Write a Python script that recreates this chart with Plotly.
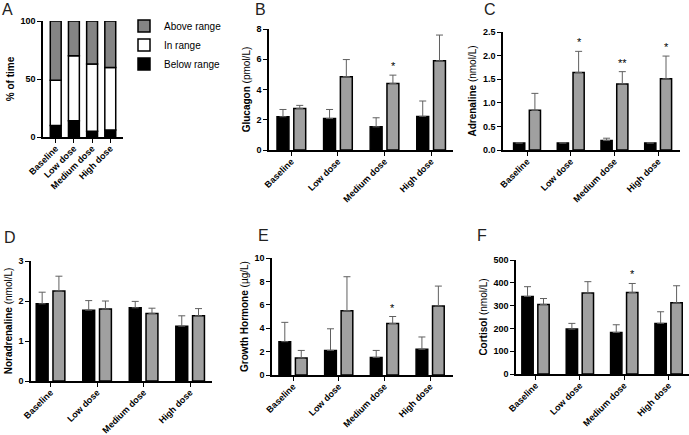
import plotly.graph_objects as go
import numpy as np

W, H = 689, 435

doses = ["Baseline", "Low dose", "Medium dose", "High dose"]

# Panel A: % of time
below_range = [10, 14, 5, 6]
in_range = [39, 56, 58, 54]
above_range = [51, 30, 37, 40]

# Panel B: Glucagon (pmol/L)
gluc_black = [2.2, 2.08, 1.53, 2.22]
gluc_black_err = [0.48, 0.6, 0.6, 1.02]
gluc_gray = [2.75, 4.85, 4.4, 5.9]
gluc_gray_err = [0.2, 1.13, 0.55, 1.7]
gluc_sig = ["", "", "*", ""]

# Panel C: Adrenaline (nmol/L)
adr_black = [0.15, 0.15, 0.2, 0.15]
adr_black_err = [0.0, 0.0, 0.05, 0.0]
adr_gray = [0.84, 1.64, 1.4, 1.51]
adr_gray_err = [0.36, 0.45, 0.26, 0.48]
adr_sig = ["", "*", "**", "*"]

# Panel D: Noradrenaline (nmol/L)
nor_black = [1.93, 1.77, 1.83, 1.37]
nor_black_err = [0.29, 0.24, 0.16, 0.26]
nor_gray = [2.25, 1.8, 1.69, 1.63]
nor_gray_err = [0.37, 0.2, 0.13, 0.18]
nor_sig = ["", "", "", ""]

# Panel E: Growth Hormone (µg/L)
gh_black = [2.85, 2.1, 1.5, 2.2]
gh_black_err = [1.65, 1.85, 0.6, 1.05]
gh_gray = [1.45, 5.5, 4.4, 5.9]
gh_gray_err = [0.65, 2.9, 0.6, 1.7]
gh_sig = ["", "", "*", ""]

# Panel F: Cortisol (nmol/L)
cort_black = [340, 197, 182, 222]
cort_black_err = [43, 25, 34, 51]
cort_gray = [305, 355, 357, 312]
cort_gray_err = [26, 50, 40, 75]
cort_sig = ["", "", "*", ""]

BLACK = "#000000"
GRAY = "#a0a0a0"
AGRAY = "#848484"
FONT = "Liberation Sans, Arial, sans-serif"

fig = go.Figure()

def dom_x(a, b):
    return [a / W, b / W]

def dom_y(top, bottom):
    return [1 - bottom / H, 1 - top / H]

panels = [
    ("A", (43, 123), (21, 137), [-0.7, 3.7], [0, 100], [0, 50, 100], None, "<b>% of time</b>"),
    ("B", (269, 453), (29, 150), [-0.48, 3.47], [0, 8], [0, 2, 4, 6, 8], None, "<b>Glucagon</b> (pmol/L)"),
    ("C", (503, 680), (32, 150), [-0.55, 3.5], [0, 2.5], [0, 0.5, 1.0, 1.5, 2.0, 2.5], ["0.0", "0.5", "1.0", "1.5", "2.0", "2.5"], "<b>Adrenaline</b> (nmol/L)"),
    ("D", (31, 212), (261, 381), [-0.42, 3.47], [0, 3], [0, 1, 2, 3], None, "<b>Noradrenaline</b> (nmol/L)"),
    ("E", (272, 453), (258, 375), [-0.46, 3.5], [0, 10], [0, 2, 4, 6, 8, 10], None, "<b>Growth Hormone</b> (µg/L)"),
    ("F", (516, 689), (260, 374), [-0.44, 3.46], [0, 500], [0, 100, 200, 300, 400, 500], None, "<b>Cortisol</b> (nmol/L)"),
]

layout_axes = {}
for i, (name, xd, yd, xr, yr, tv, tt, ytitle) in enumerate(panels):
    k = "" if i == 0 else str(i + 1)
    layout_axes["xaxis" + k] = dict(
        domain=dom_x(*xd), anchor="y" + k, type="category", automargin=False,
        categoryorder="array", categoryarray=doses, range=xr,
        showline=True, linecolor="black", linewidth=1.5,
        ticks="outside", ticklen=4, tickwidth=1.2, tickcolor="black",
        tickangle=-45, showgrid=False, zeroline=False, ticklabelstandoff=-3,
        tickfont=dict(family=FONT, size=9, color="black", weight="bold"),
    )
    layout_axes["yaxis" + k] = dict(
        domain=dom_y(*yd), anchor="x" + k, range=yr, automargin=False,
        tickvals=tv, ticktext=tt,
        showline=True, linecolor="black", linewidth=1.5,
        ticks="outside", ticklen=4, tickwidth=1.2, tickcolor="black",
        showgrid=False, zeroline=False,
        tickfont=dict(family=FONT, size=9, color="black", weight="bold"),
        title=dict(text=ytitle, font=dict(family=FONT, size=10, color="black"), standoff=4),
    )

# Panel A stacked via base
base_in = np.array(below_range)
base_above = base_in + np.array(in_range)
for vals, base, col, nm in [
    (below_range, None, BLACK, "Below range"),
    (in_range, base_in, "white", "In range"),
    (above_range, base_above, AGRAY, "Above range"),
]:
    fig.add_trace(go.Bar(
        x=doses, y=vals, base=base, name=nm, marker=dict(color=col, line=dict(color="black", width=1.5)),
        offsetgroup="A", width=0.6, xaxis="x", yaxis="y", showlegend=True,
    ))

series = [
    (gluc_black, gluc_black_err, gluc_gray, gluc_gray_err, gluc_sig),
    (adr_black, adr_black_err, adr_gray, adr_gray_err, adr_sig),
    (nor_black, nor_black_err, nor_gray, nor_gray_err, nor_sig),
    (gh_black, gh_black_err, gh_gray, gh_gray_err, gh_sig),
    (cort_black, cort_black_err, cort_gray, cort_gray_err, cort_sig),
]

annotations = []
for j, (bv, be, gv, ge, sig) in enumerate(series):
    k = str(j + 2)
    for vals, errs, col, grp in [(bv, be, BLACK, "b"), (gv, ge, GRAY, "g")]:
        fig.add_trace(go.Bar(
            x=doses, y=vals, offsetgroup=grp,
            marker=dict(color=col, line=dict(color="black", width=1.5)),
            error_y=dict(type="data", array=errs, arrayminus=[0] * len(errs), symmetric=False,
                         color="#606060", thickness=1, width=3.5),
            xaxis="x" + k, yaxis="y" + k, showlegend=False,
        ))
    for d, v, e, s in zip(doses, gv, ge, sig):
        if s:
            annotations.append(dict(
                x=d, y=v + e, xref="x" + k, yref="y" + k, text=s, showarrow=False,
                yanchor="bottom", xanchor="center", xshift=8.5, yshift=1,
                font=dict(family=FONT, size=11, color="black"),
            ))

letters = [("A", 0, 10), ("B", 253, 10), ("C", 482, 10), ("D", 2, 237), ("E", 256, 235), ("F", 475, 235)]
for t, x, y in letters:
    annotations.append(dict(
        x=x / W, y=1 - y / H, xref="paper", yref="paper", text=t, showarrow=False,
        xanchor="left", yanchor="middle", font=dict(family=FONT, size=16, color="#222"),
    ))

fig.update_layout(
    width=W, height=H, margin=dict(l=0, r=0, t=0, b=0, autoexpand=False),
    paper_bgcolor="white", plot_bgcolor="white",
    barmode="group", bargap=0.28, bargroupgap=0.29,
    font=dict(family=FONT, color="black"),
    legend=dict(x=124 / W, y=1 - 45 / H, xanchor="left", yanchor="middle",
                traceorder="reversed", font=dict(family=FONT, size=10, color="black"),
                bgcolor="rgba(0,0,0,0)", itemwidth=30, tracegroupgap=0),
    annotations=annotations,
    **layout_axes,
)

fig.write_html("out.html", post_script="document.body.style.margin='0';",
               config={"displayModeBar": False})
